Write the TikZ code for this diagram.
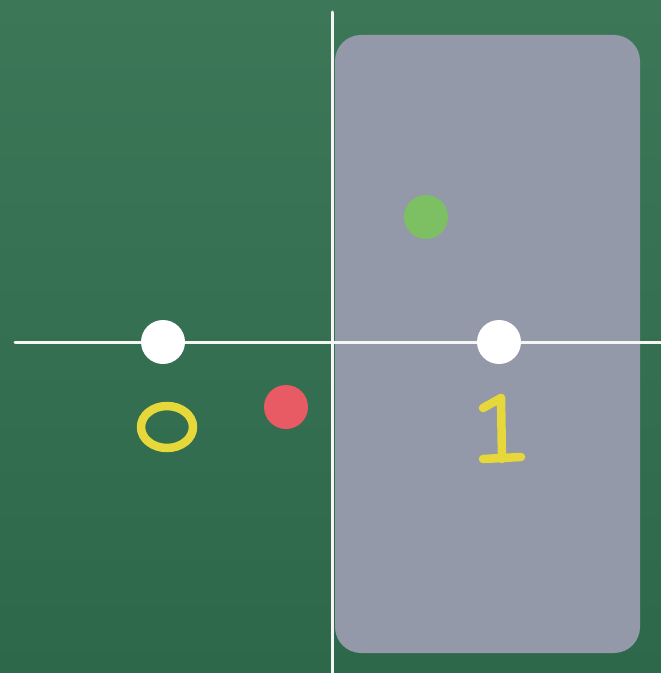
\documentclass[tikz,border=0pt]{standalone}
\usetikzlibrary{shadings}
\definecolor{boardtop}{HTML}{3C7758}
\definecolor{boardbot}{HTML}{2E684B}
\definecolor{panel}{HTML}{9399A8}
\definecolor{chalkyellow}{HTML}{E6D83A}
\definecolor{dotred}{HTML}{E85A64}
\definecolor{dotgreen}{HTML}{7DC063}
\newlength{\px}
\setlength{\px}{0.01cm}
\tikzset{
  chalkline/.style={draw=white!92!gray, line width=3\px, line cap=round},
  dot/.style={circle, minimum size=44\px, inner sep=0pt},
  yellowchalk/.style={draw=chalkyellow, line width=8.5\px, line cap=round, line join=round}
}
\begin{document}
\begin{tikzpicture}[x=0.01cm, y=-0.01cm]
\useasboundingbox (0,0) rectangle (661,673);
% board
\shade[top color=boardtop, bottom color=boardbot] (0,0) rectangle (661,673);
% panel
\fill[panel, rounded corners=26\px] (335,35) rectangle (640,653);
% axes
\draw[chalkline] (332,12) -- (332,673);
\draw[chalkline] (15,342) -- (661,342);
% dots
\node[dot, fill=white] (zero) at (163,342) {};
\node[dot, fill=white] (one) at (499,342) {};
\node[dot, fill=dotred] (red) at (286,407) {};
\node[dot, fill=dotgreen] (green) at (426,217) {};
% label 0
\draw[yellowchalk] (167,427) ellipse [x radius=26, y radius=21];
% label 1
\draw[yellowchalk] (483,408) -- (501,398) -- (502,459);
\draw[yellowchalk] (483,459) -- (521,457);
\end{tikzpicture}
\end{document}
